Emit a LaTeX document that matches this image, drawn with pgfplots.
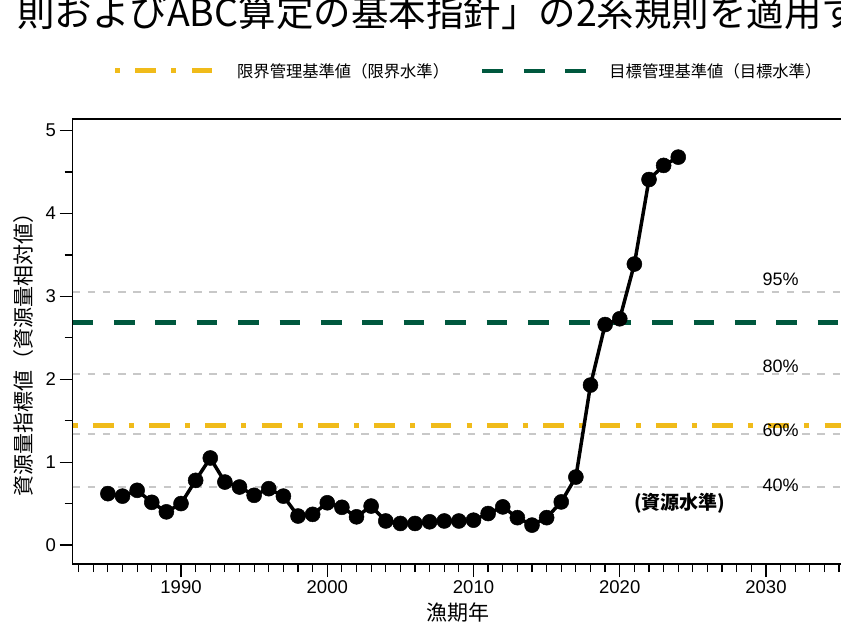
\documentclass[border=0pt]{standalone}
\usepackage{fontspec}
\setmainfont{Liberation Sans}
\newfontfamily\jp{Noto Sans CJK JP}
\usepackage{pgfplots}
\pgfplotsset{compat=1.18}
\definecolor{limY}{RGB}{240,187,26}
\definecolor{tgtG}{RGB}{0,88,62}
\definecolor{refgray}{RGB}{200,200,200}
\pgfplotsset{
  ylegimg/.style={legend image code/.code={\draw[##1] (0pt,0pt) -- (97.3pt,0pt); \path[draw=none] (0pt,0pt) -- (122pt,0pt);}},
  glegimg/.style={legend image code/.code={\draw[##1] (0pt,0pt) -- (103.5pt,0pt); \path[draw=none] (0pt,0pt) -- (127pt,0pt);}},
}
\pgfplotstableread{
year val
1985 0.62
1986 0.59
1987 0.66
1988 0.515
1989 0.40
1990 0.50
1991 0.78
1992 1.05
1993 0.76
1994 0.70
1995 0.60
1996 0.68
1997 0.59
1998 0.35
1999 0.37
2000 0.51
2001 0.455
2002 0.34
2003 0.47
2004 0.29
2005 0.26
2006 0.26
2007 0.28
2008 0.29
2009 0.29
2010 0.30
2011 0.38
2012 0.46
2013 0.33
2014 0.24
2015 0.33
2016 0.52
2017 0.82
2018 1.93
2019 2.66
2020 2.73
2021 3.39
2022 4.41
2023 4.58
2024 4.68
}\datatable
\begin{document}
\begin{tikzpicture}
\begin{axis}[
  scale only axis, width=771pt, height=445pt,
  at={(72.5pt,-564pt)}, anchor=south west,
  xmin=1982.58, xmax=2035.3, ymin=-0.229, ymax=5.14,
  xtick={1990,2000,...,2030}, minor xtick={1983,1984,...,2035},
  ytick={0,1,...,5}, minor ytick={0.5,1.5,...,4.5},
  xtick pos=left, ytick pos=left, tick align=outside,
  major tick length=13pt, minor tick length=8pt,
  tick style={line width=1.2pt, black},
  axis line style={line width=1.3pt, black},
  /pgf/number format/assume math mode=true,
  /pgf/number format/set thousands separator={},
  ticklabel style={font=\fontsize{18.5}{18.5}\selectfont},
  xlabel={\jp 漁期年}, ylabel={\jp 資源量指標値（資源量相対値）},
  every axis x label/.style={at={(axis description cs:0.5,-0.109)}, anchor=center, font=\fontsize{21}{21}\selectfont},
  every axis y label/.style={at={(axis description cs:-0.0629,0.481)}, anchor=center, rotate=90, font=\fontsize{21}{21}\selectfont},
  legend style={at={(axis description cs:0.0521,1.1079)}, anchor=west, draw=none, fill=none,
    inner sep=0pt, outer sep=0pt, legend columns=2,
    nodes={inner sep=0pt, font=\jp\fontsize{16.3}{16.3}\selectfont},
    /tikz/every even column/.append style={column sep=31pt}},
]
% percentile reference lines
\addplot[refgray, line width=2.2pt, dash pattern=on 7.5pt off 7.7pt, forget plot] coordinates {(1982.58,3.057) (2035.3,3.057)};
\addplot[refgray, line width=2.2pt, dash pattern=on 7.5pt off 7.7pt, forget plot] coordinates {(1982.58,2.060) (2035.3,2.060)};
\addplot[refgray, line width=2.2pt, dash pattern=on 7.5pt off 7.7pt, forget plot] coordinates {(1982.58,1.336) (2035.3,1.336)};
\addplot[refgray, line width=2.2pt, dash pattern=on 7.5pt off 7.7pt, forget plot] coordinates {(1982.58,0.704) (2035.3,0.704)};
% limit reference point
\addplot[limY, line width=5pt, dash pattern=on 5pt off 15.3pt on 20.7pt off 15.3pt, ylegimg]
  coordinates {(1982.58,1.448) (2035.3,1.448)};
\addlegendentry{限界管理基準値（限界水準）}
% target reference point
\addplot[tgtG, line width=4.7pt, dash pattern=on 20.7pt off 20.7pt, glegimg]
  coordinates {(1982.58,2.683) (2035.3,2.683)};
\addlegendentry{目標管理基準値（目標水準）}
% index series
\addplot[black, line width=3.5pt, mark=*, mark size=7.5pt, mark options={solid, fill=black, line width=0.5pt}, forget plot]
  table[x=year, y=val] {\datatable};
\node[font=\fontsize{18}{18}\selectfont] at (axis cs:2031,3.20) {95\%};
\node[font=\fontsize{18}{18}\selectfont] at (axis cs:2031,2.154) {80\%};
\node[font=\fontsize{18}{18}\selectfont] at (axis cs:2031,1.388) {60\%};
\node[font=\fontsize{18}{18}\selectfont] at (axis cs:2031,0.724) {40\%};
\node[font=\jp\bfseries\fontsize{19}{19}\selectfont] at (axis cs:2024.1,0.507) {(資源水準)};
\end{axis}
\node[anchor=base west, inner sep=0pt, font=\jp\fontsize{37.5}{37.5}\selectfont] at (17pt,-27pt) {則およびABC算定の基本指針」の2系規則を適用す};
\pgfresetboundingbox
\useasboundingbox (0pt,0pt) rectangle (841pt,-623pt);
\end{tikzpicture}
\end{document}
